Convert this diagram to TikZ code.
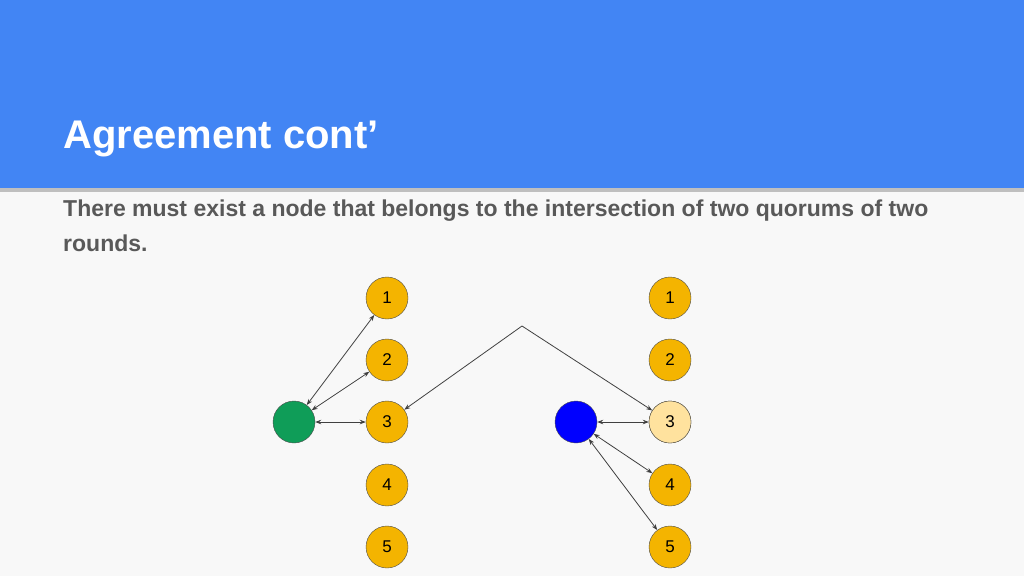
\documentclass[tikz,border=0pt]{standalone}
\usepackage{fontspec}
\setmainfont{Liberation Sans}
\usetikzlibrary{arrows.meta}
\definecolor{hdr}{HTML}{4285F4}
\definecolor{bg}{HTML}{F8F8F8}
\definecolor{txt}{HTML}{595959}
\definecolor{org}{HTML}{F4B400}
\definecolor{lorg}{HTML}{FFE29E}
\definecolor{grn}{HTML}{0F9D58}
\begin{document}
\begin{tikzpicture}[x=1pt,y=-1pt,
  nd/.style={circle,draw=black!70,fill=org,minimum size=42pt,inner sep=0pt,font=\fontsize{17}{17}\selectfont},
  big/.style={circle,draw=black!70,minimum size=42pt,inner sep=0pt},
  ar/.style={draw=black!75,line width=0.8pt,{Stealth[length=6pt]}-{Stealth[length=6pt]}},
  one/.style={draw=black!75,line width=0.8pt,-{Stealth[length=6pt]}}]
\useasboundingbox (0,0) rectangle (1024,576);
\fill[bg] (0,0) rectangle (1024,576);
\fill[black!25] (0,188) rectangle (1024,192);
\fill[hdr] (0,0) rectangle (1024,188);
\node[anchor=base west,text=white,font=\fontsize{40}{40}\selectfont\bfseries,inner sep=0pt] (title) at (63,148) {Agreement cont’};
\node[anchor=base west,text=txt,font=\fontsize{23}{35}\selectfont\bfseries,inner sep=0pt,align=left] (body) at (63,251) {There must exist a node that belongs to the intersection of two quorums of two\\rounds.};
\foreach \i/\y in {1/298,2/360,3/422,4/485,5/547}{
  \node[nd] (L\i) at (387,\y) {\i};
  \node[nd] (R\i) at (670,\y) {\i};
}
\node[nd,fill=lorg] at (R3) {3};
\node[big,fill=grn] (G) at (294,422) {};
\node[big,fill=blue] (B) at (576,422) {};
\draw[ar] (G) -- (L1);
\draw[ar] (G) -- (L2);
\draw[ar] (G) -- (L3);
\draw[ar] (B) -- (R3);
\draw[ar] (B) -- (R4);
\draw[ar] (B) -- (R5);
\coordinate (apex) at (522,326);
\draw[one] (apex) -- (L3);
\draw[one] (apex) -- (R3);
\end{tikzpicture}
\end{document}
